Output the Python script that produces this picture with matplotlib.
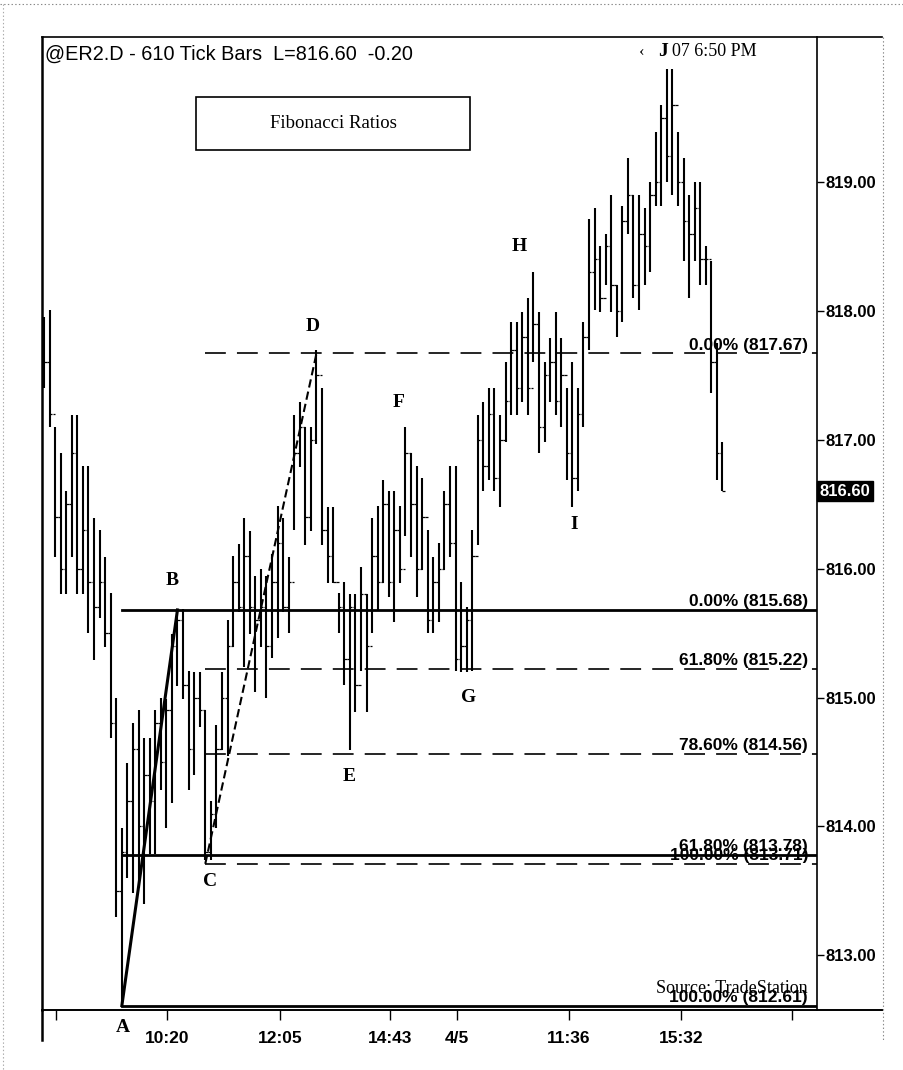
import matplotlib
matplotlib.use("Agg")
import matplotlib.pyplot as plt
import matplotlib.transforms as mtransforms
from matplotlib.lines import Line2D
from matplotlib.patches import Rectangle
from matplotlib import font_manager

# --- bar data ---
highs = [817.95, 818.01, 817.10, 816.90, 816.60, 817.19, 817.19, 816.80, 816.80, 816.39,
         816.30, 816.09, 815.81, 815.00, 813.99, 814.49, 814.80, 814.90, 814.69, 814.69,
         814.90, 815.00, 814.99, 815.49, 815.69, 815.69, 815.21, 815.20, 815.20, 814.90,
         814.20, 814.79, 815.20, 815.60, 816.10, 816.19, 816.39, 816.29, 815.94, 816.00,
         815.94, 816.11, 816.49, 816.39, 816.09, 817.19, 817.29, 817.10, 817.10, 817.70,
         817.40, 816.48, 816.48, 815.81, 815.90, 815.80, 815.80, 816.01, 815.80, 816.39,
         816.49, 816.69, 816.60, 816.60, 816.49, 817.10, 816.90, 816.80, 816.70, 816.30,
         816.09, 816.20, 816.60, 816.80, 816.80, 815.90, 815.70, 816.30, 817.19, 817.29,
         817.40, 817.40, 817.19, 817.60, 817.91, 817.91, 817.99, 818.10, 818.30, 817.99,
         817.60, 817.79, 817.99, 817.79, 817.40, 817.60, 817.40, 817.91, 818.71, 818.80,
         818.50, 818.60, 818.90, 818.20, 818.81, 819.19, 818.90, 818.90, 818.80, 819.00,
         819.39, 819.60, 819.88, 819.88, 819.39, 819.19, 818.90, 819.00, 819.00, 818.50,
         818.39, 817.75, 816.98]
lows = [817.40, 817.10, 816.09, 815.80, 815.80, 816.09, 815.80, 815.80, 815.50, 815.29,
        815.62, 815.39, 814.69, 813.30, 812.63, 813.60, 813.48, 813.52, 813.40, 813.79,
        813.79, 814.28, 813.99, 814.18, 815.09, 814.99, 814.28, 814.40, 814.77, 813.74,
        813.74, 813.99, 814.59, 814.55, 815.39, 815.66, 815.24, 815.49, 815.04, 815.39,
        815.00, 815.31, 815.46, 815.66, 815.50, 816.30, 816.79, 816.18, 816.29, 816.97,
        816.18, 815.89, 815.89, 815.50, 815.10, 814.59, 814.89, 815.21, 814.89, 815.50,
        815.68, 815.89, 815.78, 815.59, 815.89, 816.25, 816.09, 815.78, 815.99, 815.50,
        815.50, 815.59, 815.99, 816.09, 815.21, 815.20, 815.20, 815.21, 816.18, 816.60,
        816.69, 816.60, 816.48, 816.98, 817.19, 817.19, 817.29, 817.19, 817.60, 816.90,
        816.98, 817.29, 817.19, 817.10, 816.69, 816.48, 816.60, 817.10, 817.70, 818.01,
        817.99, 818.20, 817.99, 817.80, 817.91, 818.60, 818.10, 818.01, 818.20, 818.30,
        818.81, 818.81, 819.00, 818.90, 818.81, 818.39, 818.10, 818.39, 818.20, 818.20,
        817.36, 816.69, 816.60]
closes = [817.60, 817.20, 816.40, 816.00, 816.50, 816.90, 816.00, 816.30, 815.90, 815.70,
          815.90, 815.50, 814.80, 813.50, 813.80, 814.20, 814.60, 814.00, 814.40, 814.20,
          814.80, 814.50, 814.90, 815.40, 815.60, 815.10, 814.60, 815.00, 814.90, 813.80,
          814.10, 814.60, 815.00, 815.40, 815.90, 815.70, 816.10, 815.70, 815.60, 815.70,
          815.40, 815.90, 816.20, 815.70, 815.90, 816.90, 817.10, 816.40, 817.00, 817.50,
          816.30, 816.10, 815.90, 815.70, 815.30, 815.70, 815.10, 815.80, 815.40, 816.10,
          815.90, 816.50, 815.90, 816.30, 816.00, 816.90, 816.50, 816.00, 816.40, 815.60,
          815.90, 816.00, 816.50, 816.20, 815.30, 815.40, 815.60, 816.10, 817.00, 816.80,
          817.20, 816.70, 817.00, 817.30, 817.70, 817.40, 817.80, 817.40, 817.90, 817.10,
          817.50, 817.60, 817.30, 817.50, 816.90, 816.70, 817.20, 817.80, 818.30, 818.40,
          818.10, 818.50, 818.20, 818.00, 818.70, 818.90, 818.20, 818.60, 818.50, 818.90,
          819.00, 819.50, 819.20, 819.60, 819.00, 818.70, 818.60, 818.80, 818.40, 818.40,
          817.60, 816.90, 816.60]

time_ticks = [2.16, 22.1, 42.4, 62.2, 74.3, 94.4, 114.6, 134.5]
time_labels = ["", "10:20", "12:05", "14:43", "4/5", "11:36", "15:32", ""]
price_ticks = [813.0, 814.0, 815.0, 816.0, 817.0, 818.0, 819.0]
last_price = 816.60

# fibonacci retracements: AB (solid) and CD (dashed)
fib_ab_levels = [815.68, 813.78, 812.61]
fib_ab_labels = ["0.00% (815.68)", "61.80% (813.78)", "100.00% (812.61)"]
fib_cd_levels = [817.67, 815.22, 814.56, 813.71]
fib_cd_labels = ["0.00% (817.67)", "61.80% (815.22)", "78.60% (814.56)", "100.00% (813.71)"]

swing_a = (14, 812.61)
swing_b = (24, 815.68)
swing_c = (29, 813.71)
swing_d = (49, 817.67)

pivot_names = ["A", "B", "C", "D", "E", "F", "G", "H", "I", "J"]
pivot_x = [14.2, 23.0, 29.9, 48.4, 54.9, 63.8, 76.3, 85.4, 95.3, 111.3]
pivot_y = [812.44, 815.91, 813.57, 817.88, 814.39, 817.29, 815.00, 818.50, 816.34, 820.01]


def pick(*names):
    have = {f.name for f in font_manager.fontManager.ttflist}
    return [n for n in names if n in have] + ["DejaVu Sans"]


narrow = pick("Liberation Sans Narrow", "Liberation Sans")
sans = pick("Liberation Sans")
serif = pick("Liberation Serif", "DejaVu Serif")
plt.rcParams["lines.scale_dashes"] = False

W, H = 904, 1070
fig = plt.figure(figsize=(W / 100, H / 100), dpi=100)
ax = fig.add_axes([42 / W, 1 - 1010 / H, 775 / W, 973 / H])
xmax = 139.0
ax.set_xlim(-0.36, xmax)
ax.set_ylim(812.576, 820.125)

# bars
idx = list(range(len(highs)))
ax.vlines(idx, lows, highs, color="black", lw=1.5, zorder=3)
ax.hlines(closes, [i for i in idx], [i + 0.45 for i in idx], color="black", lw=0.9, zorder=3)
ax.hlines(closes[:-1], [i + 0.55 for i in idx[:-1]], [i + 1 for i in idx[:-1]],
          color="black", lw=0.9, zorder=3)

# fib lines
for lev, lab in zip(fib_ab_levels, fib_ab_labels):
    ax.plot([swing_a[0], xmax], [lev, lev], color="black", lw=2.0, zorder=2)
    ax.text(137.4, lev + 0.03, lab, ha="right", va="baseline", fontsize=12.5,
            fontweight="bold", family=sans, zorder=4)
for lev, lab in zip(fib_cd_levels, fib_cd_labels):
    ax.plot([swing_c[0], xmax], [lev, lev], color="black", lw=1.2,
            dashes=(15, 8), zorder=2)
    ax.text(137.4, lev + 0.03, lab, ha="right", va="baseline", fontsize=12.5,
            fontweight="bold", family=sans, zorder=4)

# swing lines
ax.plot([swing_a[0], swing_b[0]], [swing_a[1], swing_b[1]], color="black", lw=2.2, zorder=4)
ax.plot([swing_c[0], swing_d[0]], [swing_c[1], swing_d[1]], color="black", lw=1.5,
        dashes=(6, 3), zorder=4)

for name, px, py in zip(pivot_names, pivot_x, pivot_y):
    ax.text(px, py, name, ha="center", va="center", fontsize=14, fontweight="bold",
            family=serif, clip_on=False, zorder=5)

# axes styling
for s in ["top", "bottom"]:
    ax.spines[s].set_visible(False)
ax.spines["left"].set_linewidth(1.8)
ax.spines["right"].set_linewidth(1.2)
ax.yaxis.tick_right()
ax.set_yticks(price_ticks)
ax.set_yticklabels(["%.2f" % p for p in price_ticks])
ax.tick_params(axis="y", direction="out", length=5, width=1, pad=1, labelsize=12)
for t in ax.get_yticklabels():
    t.set_fontweight("bold")
    t.set_family(sans)
ax.set_xticks(time_ticks)
ax.set_xticklabels(time_labels)
ax.tick_params(axis="x", direction="out", length=7, width=1, pad=8, labelsize=12.5)
for t in ax.get_xticklabels():
    t.set_fontweight("bold")
    t.set_family(narrow)

trans = mtransforms.blended_transform_factory(ax.transAxes, ax.transData)
ax.text(1.003, last_price, "816.60", transform=trans, ha="left", va="center", color="white",
        fontsize=12, fontweight="bold", family=sans,
        bbox=dict(boxstyle="square,pad=0.15", fc="black", ec="black"))

# header texts
ax.text(0.004, 0.982, "@ER2.D - 610 Tick Bars  L=816.60  -0.20", transform=ax.transAxes,
        ha="left", va="center", fontsize=14.3, family=narrow)
ax.text(113.0, 820.01, "07 6:50 PM", ha="left", va="center", fontsize=13, family=serif)
ax.text(107.4, 820.01, "\u2039", ha="center", va="center", fontsize=12, family=serif)
ax.add_patch(Rectangle((0.1987, 0.8839), 0.3536, 0.0544, transform=ax.transAxes,
                       fc="white", ec="black", lw=1.2, zorder=5))
ax.text(0.3755, 0.9106, "Fibonacci Ratios", transform=ax.transAxes, ha="center",
        va="center", fontsize=13.5, family=serif, zorder=6)
ax.text(137.4, 812.71, "Source: TradeStation", ha="right", va="baseline", fontsize=13,
        family=serif, zorder=5)


def fline(x0, y0, x1, y1, **kw):
    fig.add_artist(Line2D([x0 / W, x1 / W], [1 - y0 / H, 1 - y1 / H],
                          transform=fig.transFigure, **kw))


fline(42, 37, 882, 37, color="black", lw=1.2)
fline(42, 1010, 882, 1010, color="black", lw=1.4)
fline(42, 1010, 42, 1040, color="black", lw=1.8)
fline(883, 37, 883, 1040, color="#888888", lw=0.8, ls=":")
fline(0, 4, W, 4, color="#888888", lw=0.8, ls=":")
fline(3, 4, 3, 1070, color="#aaaaaa", lw=0.8, ls=":")

fig.savefig("out.png", dpi=100)
